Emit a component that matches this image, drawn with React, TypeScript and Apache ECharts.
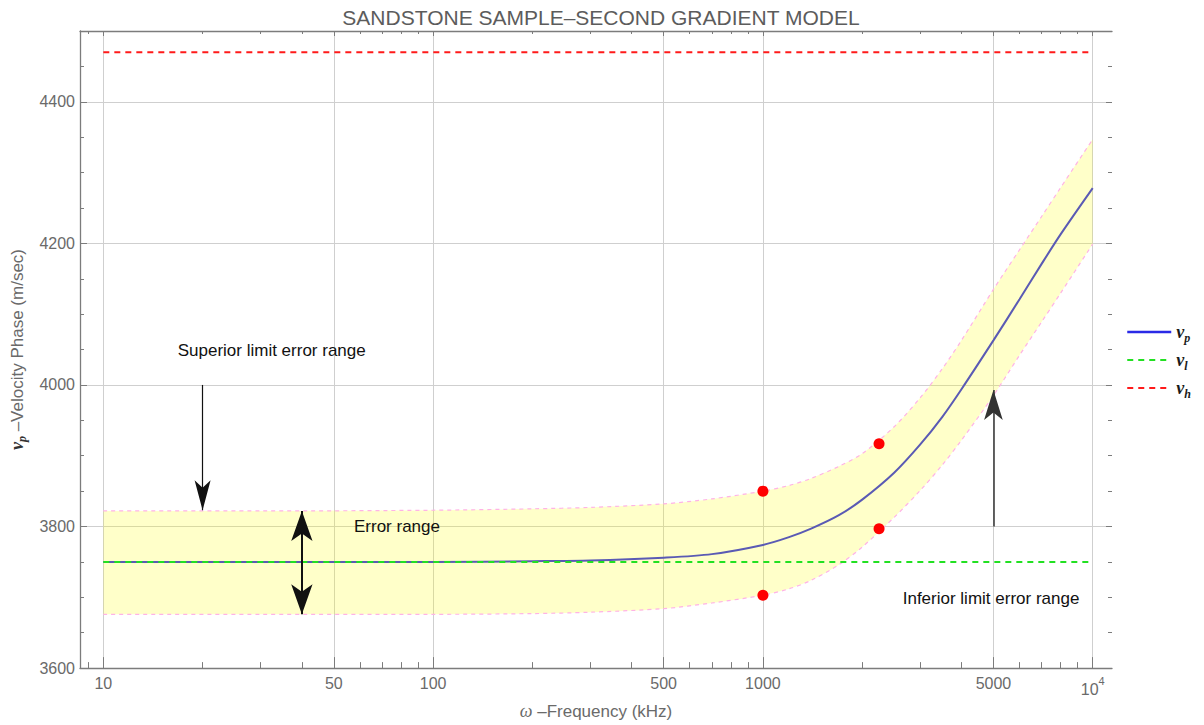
import React, { useEffect, useRef } from "react";
import * as echarts from "echarts";

// ---- data ----
const freq = [10, 30, 100, 200, 300, 500, 700, 1000, 1200, 1400, 1700, 2000, 2500, 3000, 3500, 4000, 5000, 6000, 7000, 8000, 10000];
const vpValues = [3750, 3750, 3750, 3751, 3752, 3756, 3761, 3774, 3785, 3797, 3816, 3838, 3876, 3916, 3955, 3994, 4063, 4121, 4171, 4213, 4278];
const upperValues = [3822, 3822, 3823, 3825, 3827, 3832, 3839, 3850, 3858, 3868, 3885, 3903, 3941, 3982, 4023, 4063, 4135, 4191, 4238, 4279, 4347];
const lowerValues = [3676, 3676, 3676, 3677, 3679, 3684, 3692, 3703, 3712, 3724, 3746, 3771, 3813, 3851, 3887, 3922, 3985, 4042, 4089, 4130, 4199];
const vlLine = { freq: [10, 10000], value: [3750, 3750] };
const vhLine = { freq: [10, 10000], value: [4470, 4470] };
const pointFreq = [1000, 1000, 2250, 2250];
const pointValues = [3850, 3703, 3917, 3797];

const xMajorTicks = [10, 50, 100, 500, 1000, 5000, 10000];
const xMinorTicks = [9, 20, 30, 40, 60, 70, 80, 90, 200, 300, 400, 600, 700, 800, 900, 2000, 3000, 4000, 6000, 7000, 8000, 9000];
const yMajorTicks = [3600, 3800, 4000, 4200, 4400];
const yMinorTicks = [3650, 3700, 3750, 3850, 3900, 3950, 4050, 4100, 4150, 4250, 4300, 4350, 4450];

const titleText = "SANDSTONE SAMPLE\u2013SECOND GRADIENT MODEL";
const annotations = [
  { name: "Superior limit error range", f: 32.4, v: 4049 },
  { name: "Error range", f: 77.7, v: 3800 },
  { name: "Inferior limit error range", f: 4917, v: 3698 },
];

const L = (f: number) => Math.log10(f);
const X_MIN = 0.9293;
const X_MAX = 4.0585;
const SANS = "'Liberation Sans', Arial, sans-serif";
const SERIF = "'Liberation Serif', 'Times New Roman', serif";
const AXIS_COLOR = "#7c7c7c";
const LABEL_COLOR = "#6a6a6a";

export default function App() {
  const ref = useRef<HTMLDivElement>(null);

  useEffect(() => {
    if (!ref.current) return;
    const chart = echarts.init(ref.current, undefined, { renderer: "svg" });

    const pair = (fs: number[], vs: number[]) => fs.map((f, i) => [L(f), vs[i]]);
    // y first so that the stack is computed on the y dimension
    const pairYX = (fs: number[], vs: number[]) => fs.map((f, i) => [vs[i], L(f)]);
    const diff = upperValues.map((u, i) => u - lowerValues[i]);

    const xBase = { type: "value", min: X_MIN, max: X_MAX, gridIndex: 0 };
    const yBase = { type: "value", min: 3600, max: 4500, gridIndex: 0 };
    const tickStyle = { color: AXIS_COLOR, width: 1 };

    const option: any = {
      animation: false,
      backgroundColor: "#ffffff",
      textStyle: { fontFamily: SANS },
      title: {
        text: titleText,
        left: 596,
        textAlign: "center",
        top: 2,
        textStyle: { color: "#5c5c5c", fontSize: 21, fontWeight: "normal", fontFamily: SANS },
      },
      grid: { left: 80, right: 92, top: 31, bottom: 56, containLabel: false },
      legend: {
        orient: "vertical",
        left: 1121,
        top: 318,
        itemWidth: 44,
        itemHeight: 14,
        itemGap: 7,
        selectedMode: false,
        itemStyle: { opacity: 0 },
        data: [
          { name: "vp", lineStyle: { color: "#2a2ae6", width: 2.5 } },
          { name: "vl" },
          { name: "vh" },
        ],
        formatter: (n: string) =>
          ({ vp: "{v|v}{s|p}", vl: "{v|v}{s|l}", vh: "{v|v}{s|h}" } as any)[n],
        textStyle: {
          rich: {
            v: { fontFamily: SERIF, fontStyle: "italic", fontWeight: "bold", fontSize: 18, color: "#1a1a1a", lineHeight: 24, verticalAlign: "middle" },
            s: { fontFamily: SERIF, fontStyle: "italic", fontWeight: "bold", fontSize: 12, color: "#1a1a1a", lineHeight: 14, verticalAlign: "bottom" },
          },
        },
      },
      xAxis: [
        {
          ...xBase,
          position: "bottom",
          name: "{w|\u03c9} \u2013Frequency (kHz)",
          nameLocation: "middle",
          nameGap: 33,
          nameTextStyle: {
            color: LABEL_COLOR,
            fontSize: 17,
            fontFamily: SANS,
            rich: { w: { fontFamily: SERIF, fontStyle: "italic", fontSize: 18, color: LABEL_COLOR } },
          },
          axisLine: { show: true, lineStyle: { color: AXIS_COLOR, width: 1.3 } },
          axisTick: { show: true, inside: true, length: 11, customValues: xMajorTicks.map(L), lineStyle: tickStyle },
          axisLabel: {
            customValues: xMajorTicks.map(L),
            color: LABEL_COLOR,
            fontSize: 16,
            margin: 7,
            formatter: (v: number) => {
              const f = Math.round(Math.pow(10, v));
              return f === 10000 ? "{b|10}{e|4}" : String(f);
            },
            rich: {
              b: { fontSize: 16, color: LABEL_COLOR, lineHeight: 22, verticalAlign: "bottom" },
              e: { fontSize: 11, color: LABEL_COLOR, lineHeight: 12, verticalAlign: "top" },
            },
          },
          splitLine: { show: true, lineStyle: { color: "#cfcfcf", width: 1 } },
        },
        {
          ...xBase,
          position: "bottom",
          axisLine: { show: false },
          axisTick: { show: true, inside: true, length: 6, customValues: xMinorTicks.map(L), lineStyle: tickStyle },
          axisLabel: { show: false },
          splitLine: { show: false },
        },
        {
          ...xBase,
          position: "top",
          axisLine: { show: true, lineStyle: { color: AXIS_COLOR, width: 1.3 } },
          axisTick: { show: true, inside: true, length: 5, customValues: xMajorTicks.map(L), lineStyle: tickStyle },
          axisLabel: { show: false },
          splitLine: { show: false },
        },
        {
          ...xBase,
          position: "top",
          axisLine: { show: false },
          axisTick: { show: true, inside: true, length: 3, customValues: xMinorTicks.map(L), lineStyle: tickStyle },
          axisLabel: { show: false },
          splitLine: { show: false },
        },
      ],
      yAxis: [
        {
          ...yBase,
          position: "left",
          name: "{v|v}{s|p}{t| \u2013Velocity Phase (m/sec)}",
          nameLocation: "middle",
          nameRotate: 90,
          nameGap: 52,
          nameTextStyle: {
            color: LABEL_COLOR,
            fontSize: 17,
            rich: {
              v: { fontFamily: SERIF, fontStyle: "italic", fontWeight: "bold", fontSize: 18, color: "#333", lineHeight: 22, verticalAlign: "middle" },
              s: { fontFamily: SERIF, fontStyle: "italic", fontWeight: "bold", fontSize: 12, color: "#333", lineHeight: 12, verticalAlign: "bottom" },
              t: { fontFamily: SANS, fontSize: 17, color: LABEL_COLOR, lineHeight: 22, verticalAlign: "middle" },
            },
          },
          axisLine: { show: true, lineStyle: { color: AXIS_COLOR, width: 1.3 } },
          axisTick: { show: true, inside: true, length: 7, customValues: yMajorTicks, lineStyle: tickStyle },
          axisLabel: { customValues: yMajorTicks, color: LABEL_COLOR, fontSize: 16, margin: 5, formatter: (v: number) => String(v) },
          splitLine: { show: true, lineStyle: { color: "#cfcfcf", width: 1 } },
        },
        {
          ...yBase,
          position: "left",
          axisLine: { show: false },
          axisTick: { show: true, inside: true, length: 4, customValues: yMinorTicks, lineStyle: tickStyle },
          axisLabel: { show: false },
          splitLine: { show: false },
        },
        {
          ...yBase,
          position: "right",
          axisLine: { show: false },
          axisTick: { show: true, inside: true, length: 6, customValues: yMajorTicks, lineStyle: tickStyle },
          axisLabel: { show: false },
          splitLine: { show: false },
        },
        {
          ...yBase,
          position: "right",
          axisLine: { show: false },
          axisTick: { show: true, inside: true, length: 4, customValues: yMinorTicks, lineStyle: tickStyle },
          axisLabel: { show: false },
          splitLine: { show: false },
        },
      ],
      series: [
        {
          name: "lower",
          type: "line",
          stack: "band",
          encode: { x: 1, y: 0 },
          data: pairYX(freq, lowerValues),
          symbol: "none",
          smooth: 0.3,
          silent: true,
          lineStyle: { color: "#ffb3e6", width: 1.2, type: [4, 4] },
          z: 2,
        },
        {
          name: "band",
          type: "line",
          stack: "band",
          encode: { x: 1, y: 0 },
          data: pairYX(freq, diff),
          symbol: "none",
          smooth: 0.3,
          silent: true,
          lineStyle: { color: "#ffb3e6", width: 1.2, type: [4, 4] },
          areaStyle: { color: "rgba(255,255,0,0.3)" },
          z: 2,
        },
        {
          name: "vp",
          type: "line",
          data: pair(freq, vpValues),
          symbol: "none",
          smooth: 0.3,
          color: "#5a5ab4",
          lineStyle: { color: "#5a5ab4", width: 2 },
          z: 3,
        },
        {
          name: "vl",
          type: "line",
          data: pair(vlLine.freq, vlLine.value),
          symbol: "none",
          color: "#22e022",
          lineStyle: { color: "#22e022", width: 2, type: [6, 5] },
          z: 4,
        },
        {
          name: "vh",
          type: "line",
          data: pair(vhLine.freq, vhLine.value),
          symbol: "none",
          color: "#ff1a1a",
          lineStyle: { color: "#ff1a1a", width: 2, type: [6, 5] },
          z: 4,
        },
        {
          name: "points",
          type: "scatter",
          data: pair(pointFreq, pointValues),
          symbol: "circle",
          symbolSize: 11,
          itemStyle: { color: "#ff0000", opacity: 1 },
          silent: true,
          z: 6,
        },
        {
          name: "annot",
          type: "line",
          data: [],
          silent: true,
          z: 7,
          markLine: {
            silent: true,
            animation: false,
            symbol: ["none", "none"],
            label: { show: false },
            emphasis: { disabled: true },
            data: [
              [
                { coord: [L(20), 4000], lineStyle: { color: "#111111", width: 1.2, type: "solid" } },
                { coord: [L(20), 3823], symbol: "arrow", symbolSize: [12, 30] },
              ],
              [
                { coord: [L(40), 3822], symbol: "arrow", symbolSize: [16, 30], lineStyle: { color: "#111111", width: 2, type: "solid" } },
                { coord: [L(40), 3676], symbol: "arrow", symbolSize: [16, 30] },
              ],
              [
                { coord: [L(5000), 3800], lineStyle: { color: "#333333", width: 1.5, type: "solid" } },
                { coord: [L(5000), 3993], symbol: "arrow", symbolSize: [14, 30] },
              ],
            ],
          },
          markPoint: {
            silent: true,
            animation: false,
            symbol: "circle",
            symbolSize: 1,
            itemStyle: { color: "rgba(0,0,0,0)" },
            label: { show: true, position: "inside", formatter: "{b}", color: "#111111", fontSize: 17, fontFamily: SANS },
            data: annotations.map((a) => ({ name: a.name, coord: [L(a.f), a.v] })),
          },
        },
      ],
    };

    chart.setOption(option);
    return () => chart.dispose();
  }, []);

  return (
    <div
      ref={ref}
      style={{ position: "fixed", left: 0, top: 0, width: 1204, height: 725, background: "#fff" }}
    />
  );
}
